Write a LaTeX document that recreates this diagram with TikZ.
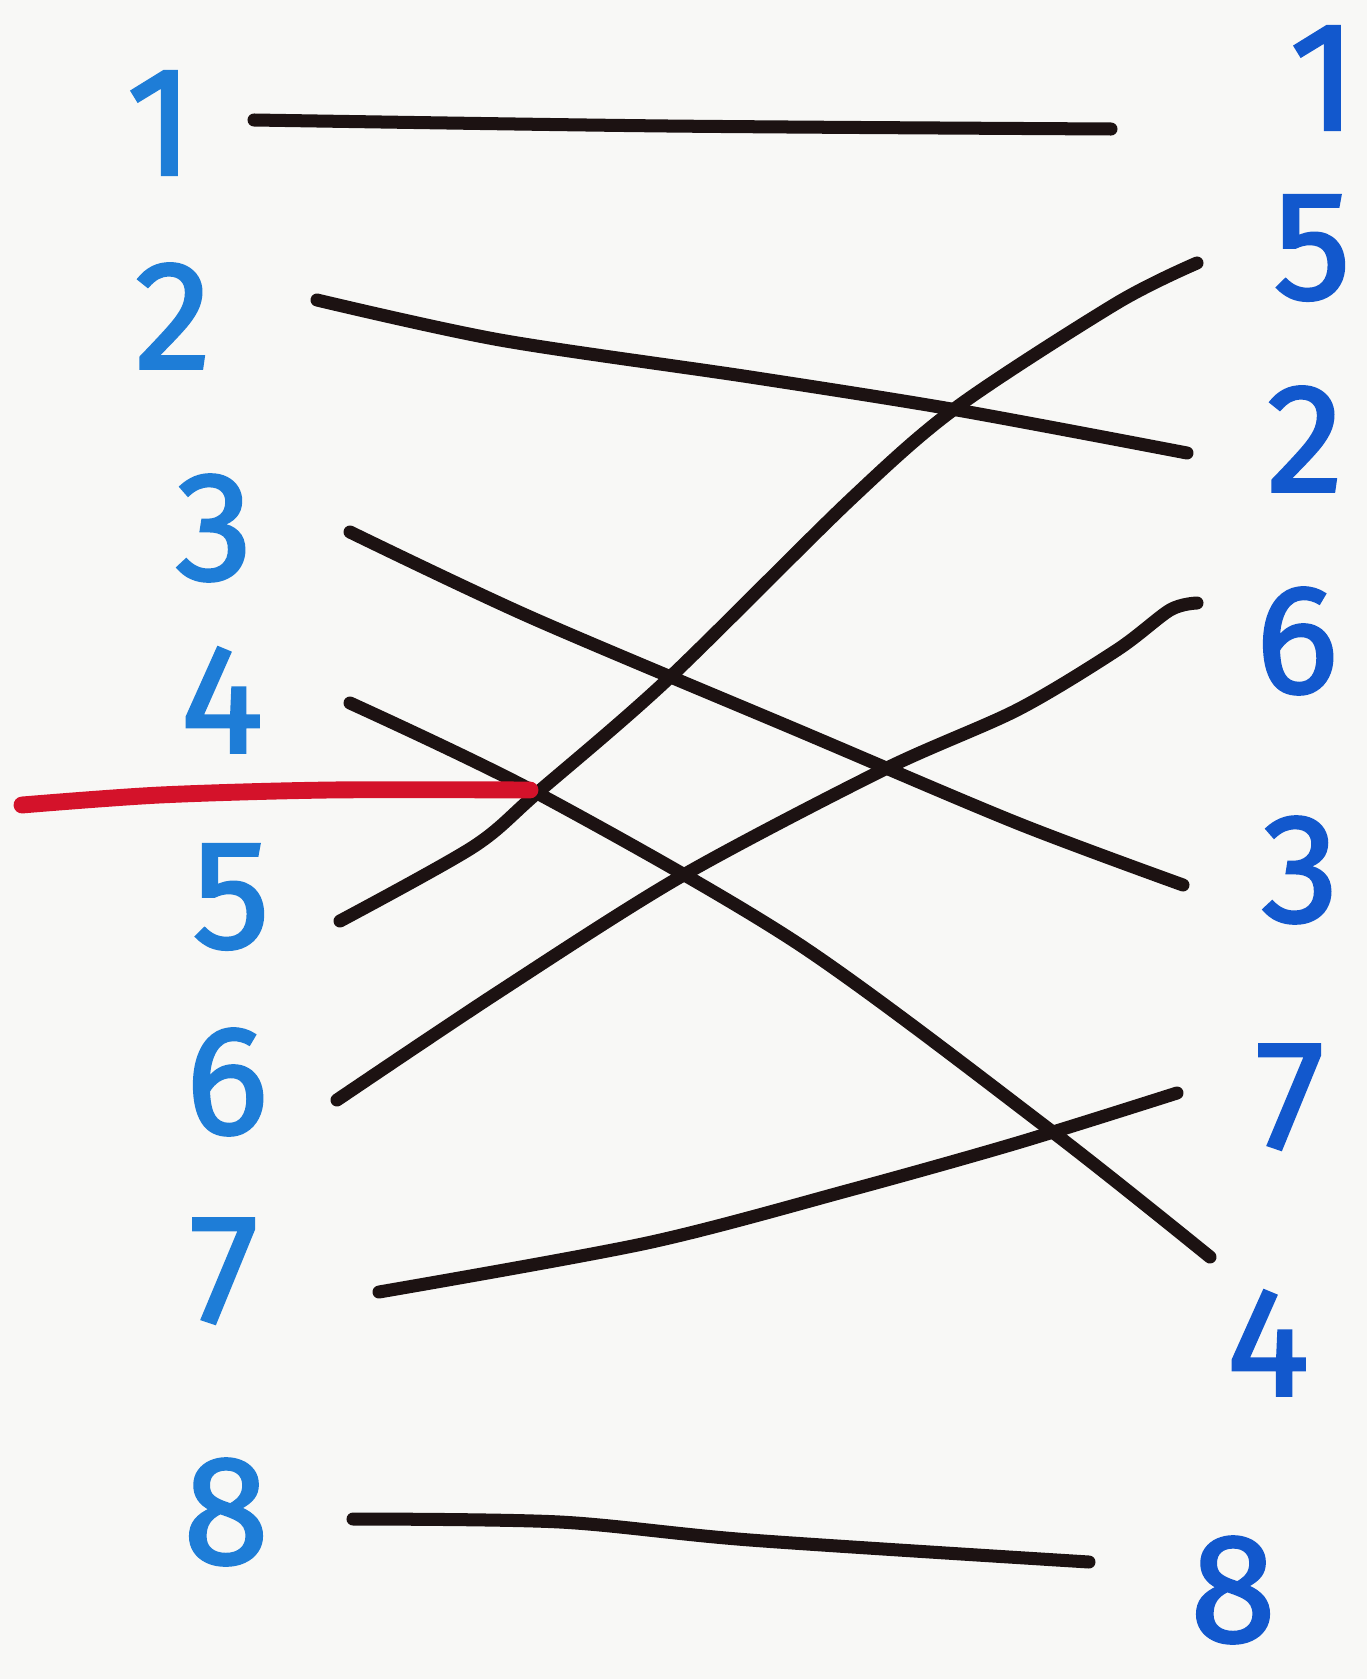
\documentclass[tikz,border=0pt]{standalone}
\usepackage{fontspec}
\newfontfamily\markerfont{Fira Sans}[FakeBold=1.8]
\definecolor{paper}{RGB}{248,248,246}
\definecolor{leftblue}{RGB}{30,125,215}
\definecolor{rightblue}{RGB}{18,88,205}
\definecolor{inkblack}{RGB}{28,18,18}
\definecolor{inkred}{RGB}{212,18,42}

\begin{document}
\begin{tikzpicture}[x=0.01cm,y=-0.01cm,
  num/.style={text=#1, inner sep=0pt,
    font=\markerfont\fontsize{44}{44}\selectfont},
  wire/.style={draw=inkblack, line width=3.7pt, line cap=round, line join=round},
  redwire/.style={draw=inkred, line width=4.8pt, line cap=round}]
  \fill[paper] (0,0) rectangle (1367,1679);
  \useasboundingbox (0,0) rectangle (1367,1679);

  % left column, in order
  \node[num=leftblue] (l1) at (160,123) {1};
  \node[num=leftblue] (l2) at (173,316) {2};
  \node[num=leftblue] (l3) at (214,528) {3};
  \node[num=leftblue] (l4) at (222,700) {4};
  \node[num=leftblue] (l5) at (231,897) {5};
  \node[num=leftblue] (l6) at (227,1082) {6};
  \node[num=leftblue] (l7) at (224,1271) {7};
  \node[num=leftblue] (l8) at (226,1512) {8};

  % right column, after the shuffle
  \node[num=rightblue] (r1) at (1323,78) {1};
  \node[num=rightblue] (r5) at (1312,248) {5};
  \node[num=rightblue] (r2) at (1305,439) {2};
  \node[num=rightblue] (r6) at (1297,641) {6};
  \node[num=rightblue] (r3) at (1300,870) {3};
  \node[num=rightblue] (r7) at (1290,1097) {7};
  \node[num=rightblue] (r4) at (1268,1343) {4};
  \node[num=rightblue] (r8) at (1233,1590) {8};

  % wire ends beside the numbers
  \coordinate (a1) at (254,120);  \coordinate (b1) at (1111,129);
  \coordinate (a2) at (317,300);  \coordinate (b2) at (1187,453);
  \coordinate (a3) at (350,532);  \coordinate (b3) at (1183,885);
  \coordinate (a4) at (350,703);  \coordinate (b4) at (1210,1257);
  \coordinate (a5) at (340,921);  \coordinate (b5) at (1197,263);
  \coordinate (a6) at (337,1100); \coordinate (b6) at (1197,603);
  \coordinate (a7) at (379,1292); \coordinate (b7) at (1177,1093);
  \coordinate (a8) at (353,1519); \coordinate (b8) at (1089,1562);
  \coordinate (redstart) at (22,805);
  \coordinate (cross) at (530,790);

  \draw[wire] plot[smooth] coordinates {(a1) (667,126) (b1)};
  \draw[wire] plot[smooth] coordinates {(a2) (500,340) (750,377) (957,410) (b2)};
  \draw[wire] plot[smooth] coordinates {(a3) (530,617) (797,730) (1017,823) (b3)};
  \draw[wire] plot[smooth] coordinates {(a4) (537,793) (797,943) (1050,1130) (b4)};
  \draw[wire] plot[smooth] coordinates {(a5) (473,847) (537,793) (667,680) (850,500) (957,407) (1117,303) (b5)};
  \draw[wire] plot[smooth] coordinates {(a6) (497,993) (680,877) (883,770) (1017,710) (1117,650) (1170,610) (b6)};
  \draw[wire] plot[smooth] coordinates {(a7) (647,1243) (850,1190) (1017,1143) (b7)};
  \draw[wire] plot[smooth] coordinates {(a8) (560,1522) (750,1540) (b8)};

  % red marker up to the crossing
  \draw[redwire] plot[smooth] coordinates {(redstart) (160,795) (330,790) (cross)};
\end{tikzpicture}
\end{document}
